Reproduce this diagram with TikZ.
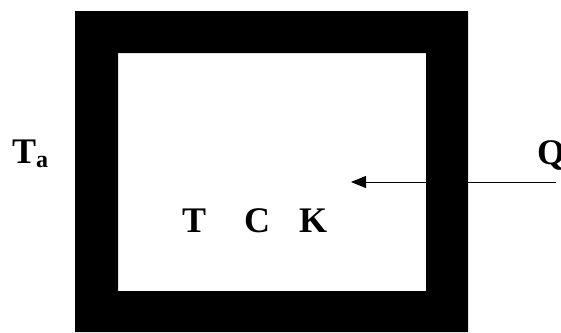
\documentclass[tikz,border=0pt]{standalone}
\usepackage{fontspec}
\setmainfont{Liberation Serif}
\usetikzlibrary{arrows.meta}
\tikzset{lbl/.style={anchor=base west,inner sep=0pt,font=\fontsize{36}{40}\selectfont\bfseries}}

\begin{document}
\begin{tikzpicture}[x=1pt,y=-1pt]
  \useasboundingbox (0,0) rectangle (561,332);
  \coordinate (A) at (75,11); \coordinate (B) at (468,332);
  \coordinate (C) at (118,53); \coordinate (D) at (426,291);
  \coordinate (E) at (556,182); \coordinate (F) at (351,182);
  \draw[line width=1pt,-{Triangle[length=15pt,width=12pt]}] (E)--(F);
  \fill[even odd rule] (A) rectangle (B) (C) rectangle (D);
  \node[lbl] (Ta) at (12,163) {T\raisebox{-4pt}{\fontsize{24}{24}\selectfont a}};
  \node[lbl] (Q) at (537,164) {Q};
  \node[lbl] (T) at (182,232) {T};
  \node[lbl] (Cc) at (244,232) {C};
  \node[lbl] (K) at (299,232) {K};
\end{tikzpicture}
\end{document}
